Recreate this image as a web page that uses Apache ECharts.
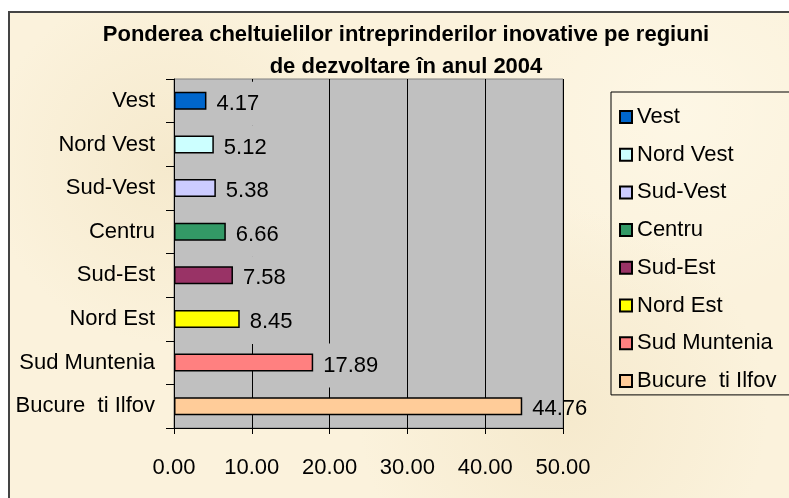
<!DOCTYPE html>
<html>
<head>
<meta charset="utf-8">
<script src="https://cdn.jsdelivr.net/npm/echarts@6/dist/echarts.min.js"></script>
<style>
  body { margin: 0; background: #fff; }
  #panel {
    position: absolute; left: 8px; top: 11px; width: 790px; height: 500px;
    border: 2px solid #444;
    background-color: #fbf2dc;
    background-image:
      radial-gradient(circle at 20% 30%, rgba(240,225,190,0.5), rgba(0,0,0,0) 25%),
      radial-gradient(circle at 70% 80%, rgba(240,225,190,0.5), rgba(0,0,0,0) 30%),
      radial-gradient(circle at 85% 20%, rgba(255,250,235,0.6), rgba(0,0,0,0) 25%);
  }
  #chart { position: absolute; left: 0; top: 0; width: 789px; height: 498px; }
</style>
</head>
<body>
<div id="panel"></div>
<div id="chart"></div>
<script>
// date
var regions = ['Vest', 'Nord Vest', 'Sud-Vest', 'Centru', 'Sud-Est', 'Nord Est', 'Sud Muntenia', 'Bucure  ti Ilfov'];
var values = [4.17, 5.12, 5.38, 6.66, 7.58, 8.45, 17.89, 44.76];
var colors = ['#0066cc', '#ccffff', '#ccccff', '#339966', '#993366', '#ffff00', '#ff8080', '#ffcc99'];
var xTicks = [0, 10, 20, 30, 40, 50];

function Chart_1(){
  var myChart = echarts.init(document.getElementById('chart'));
  var font = 'Liberation Sans, Arial, sans-serif';

  // fiecare regiune e o serie separata, toate in acelasi stack ca sa stea centrat
  var series = regions.map(function(name, i){
    return {
      name: name,
      type: 'bar',
      stack: 'total',
      barWidth: 18,
      itemStyle: { color: colors[i], borderColor: '#000', borderWidth: 1.5 },
      label: {
        show: true,
        position: 'right',
        distance: 2,
        offset: [0, 3],
        color: '#000',
        fontFamily: font,
        fontSize: 22,
        // fundal gri ca in excel (acopera liniile de grila), dar nu in afara zonei
        backgroundColor: values[i] < 40 ? '#c0c0c0' : 'transparent',
        padding: [12, 4, 10, 8],
        formatter: function(p){ return p.value.toFixed(2); }
      },
      data: regions.map(function(r, j){ return j === i ? values[i] : '-'; })
    };
  });

  var option = {
    animation: false,
    backgroundColor: 'transparent',
    graphic: [{
      type: 'text',
      x: 406, y: 19,
      style: {
        text: 'Ponderea cheltuielilor intreprinderilor inovative pe regiuni\nde dezvoltare în anul 2004',
        font: 'bold 22px Liberation Sans, Arial, sans-serif',
        fill: '#000',
        textAlign: 'center',
        textVerticalAlign: 'top',
        lineHeight: 32
      }
    }],
    legend: {
      orient: 'vertical',
      left: 611,
      top: 92,
      data: regions,
      icon: 'rect',
      itemWidth: 12,
      itemHeight: 12,
      itemGap: 15.7,
      padding: [14, 16, 3, 8],
      borderColor: '#000',
      borderWidth: 1,
      backgroundColor: 'transparent',
      textStyle: { fontFamily: font, fontSize: 22, color: '#000' }
    },
    grid: {
      left: 174, top: 79, width: 389, height: 349,
      show: true,
      backgroundColor: '#c0c0c0',
      borderColor: '#808080',
      borderWidth: 1
    },
    xAxis: {
      type: 'value',
      min: xTicks[0],
      max: xTicks[xTicks.length - 1],
      interval: 10,
      axisLine: { show: true, lineStyle: { color: '#000', width: 1 } },
      axisTick: { show: true, length: 6, lineStyle: { color: '#000' } },
      splitLine: { show: true, lineStyle: { color: '#000', width: 1 } },
      axisLabel: {
        margin: 29,
        color: '#000',
        fontFamily: font,
        fontSize: 22,
        formatter: function(v){ return v.toFixed(2); }
      }
    },
    yAxis: {
      type: 'category',
      inverse: true,
      data: regions,
      axisLine: { show: true, lineStyle: { color: '#000', width: 1 } },
      axisTick: { show: true, length: 8, lineStyle: { color: '#000' } },
      axisLabel: { margin: 19, color: '#000', fontFamily: font, fontSize: 22 }
    },
    series: series
  };
  myChart.setOption(option);
}

Chart_1();
</script>
</body>
</html>
